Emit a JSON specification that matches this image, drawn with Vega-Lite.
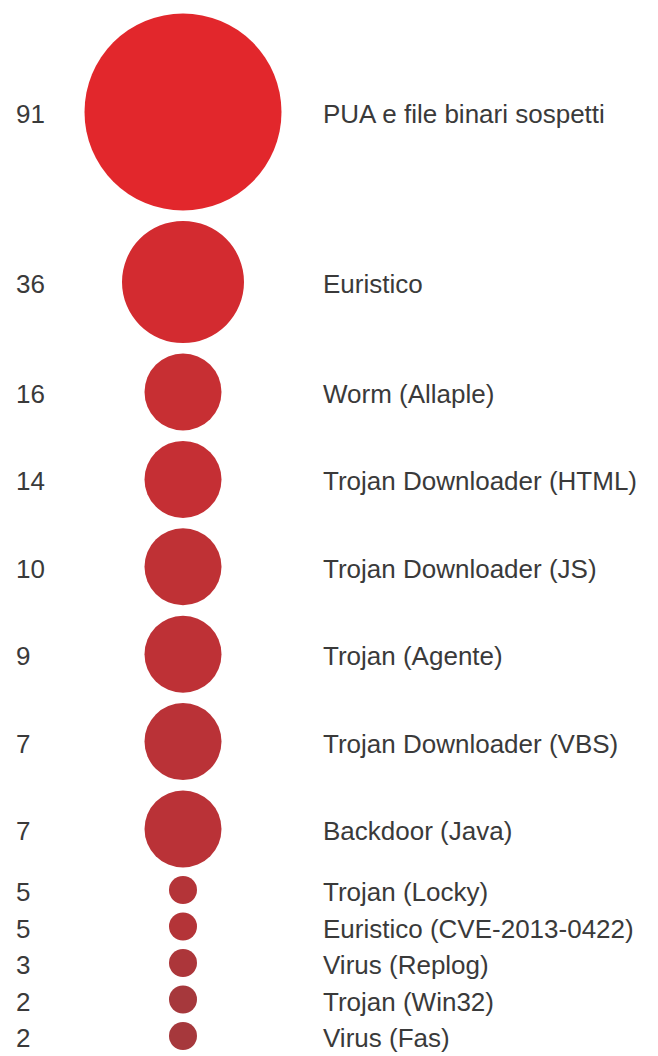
{
  "$schema": "https://vega.github.io/schema/vega-lite/v6.json",
  "width": 658,
  "height": 1056,
  "padding": 0,
  "autosize": {"type": "none"},
  "background": "white",
  "config": {"view": {"stroke": null}},
  "data": {
    "values": [
      {"rank": 1, "count": 91, "category": "PUA e file binari sospetti"},
      {"rank": 2, "count": 36, "category": "Euristico"},
      {"rank": 3, "count": 16, "category": "Worm (Allaple)"},
      {"rank": 4, "count": 14, "category": "Trojan Downloader (HTML)"},
      {"rank": 5, "count": 10, "category": "Trojan Downloader (JS)"},
      {"rank": 6, "count": 9, "category": "Trojan (Agente)"},
      {"rank": 7, "count": 7, "category": "Trojan Downloader (VBS)"},
      {"rank": 8, "count": 7, "category": "Backdoor (Java)"},
      {"rank": 9, "count": 5, "category": "Trojan (Locky)"},
      {"rank": 10, "count": 5, "category": "Euristico (CVE-2013-0422)"},
      {"rank": 11, "count": 3, "category": "Virus (Replog)"},
      {"rank": 12, "count": 2, "category": "Trojan (Win32)"},
      {"rank": 13, "count": 2, "category": "Virus (Fas)"}
    ]
  },
  "encoding": {
    "y": {
      "field": "rank",
      "type": "quantitative",
      "scale": {"domain": [1, 2, 3, 8, 9, 13], "range": [112, 282, 392, 829, 890, 1036], "nice": false, "zero": false},
      "axis": null
    }
  },
  "layer": [
    {
      "mark": {"type": "point", "filled": true, "shape": "circle", "opacity": 1, "strokeWidth": 0},
      "encoding": {
        "x": {"datum": 1, "type": "quantitative", "scale": {"domain": [0, 1, 2], "range": [16, 183, 323], "nice": false, "zero": false}, "axis": null},
        "size": {"field": "count", "type": "quantitative", "scale": {"type": "threshold", "domain": [6, 20, 50], "range": [784, 5929, 14884, 38809]}, "legend": null},
        "color": {"field": "count", "type": "quantitative", "scale": {"type": "log", "domain": [2, 91], "range": ["#a6383c", "#e2272c"], "interpolate": "rgb"}, "legend": null}
      }
    },
    {
      "mark": {"type": "text", "align": "left", "baseline": "middle", "fontSize": 26, "font": "Liberation Sans", "color": "#3a3a3a", "dy": 3},
      "encoding": {
        "x": {"datum": 0, "type": "quantitative", "scale": {"domain": [0, 1, 2], "range": [16, 183, 323], "nice": false, "zero": false}, "axis": null},
        "text": {"field": "count", "type": "quantitative"}
      }
    },
    {
      "mark": {"type": "text", "align": "left", "baseline": "middle", "fontSize": 26, "font": "Liberation Sans", "color": "#3a3a3a", "dy": 3},
      "encoding": {
        "x": {"datum": 2, "type": "quantitative", "scale": {"domain": [0, 1, 2], "range": [16, 183, 323], "nice": false, "zero": false}, "axis": null},
        "text": {"field": "category", "type": "nominal"}
      }
    }
  ]
}
